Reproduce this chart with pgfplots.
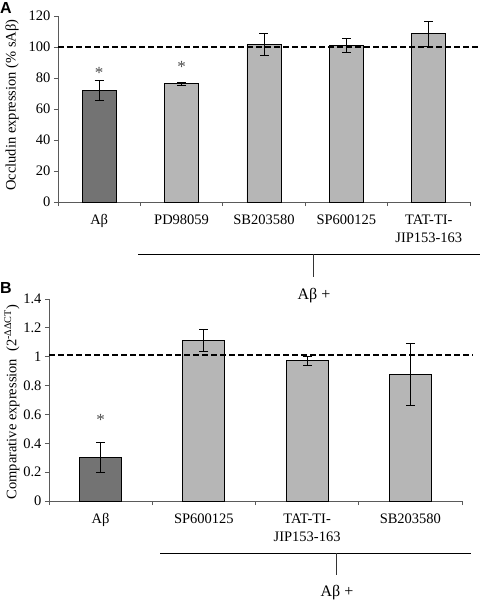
\documentclass[border=0pt]{standalone}
\usepackage{fontspec}
\setmainfont{Liberation Serif}
\newfontfamily\hsans{Liberation Sans}
\usepackage{pgfplots}
\pgfplotsset{compat=1.18}
\definecolor{darkbar}{RGB}{115,115,115}
\definecolor{lightbar}{RGB}{182,182,182}
\definecolor{axisgray}{RGB}{90,90,90}
\pgfplotsset{
  panel/.style={
    scale only axis,
    axis x line=bottom, axis y line=left,
    axis line style={-, axisgray, line width=0.8pt},
    tick align=outside,
    clip=false,
    ymin=0,
    major tick length=4pt,
    minor tick length=4pt,
    x tick style={draw=none},
    minor x tick style={axisgray, line width=0.8pt, draw=axisgray},
    y tick style={axisgray, line width=0.8pt},
    tick label style={font=\fontsize{14.5}{18}\selectfont},
    xticklabel style={align=center, yshift=-5pt},
    /pgf/number format/assume math mode=true,
  },
  barA/.style={ybar, bar shift=0pt, draw=black, line width=0.8pt,
    /pgfplots/error bars/y dir=both, /pgfplots/error bars/y explicit,
    /pgfplots/error bars/error bar style={black, line width=0.9pt},
    /pgfplots/error bars/error mark options={rotate=90, mark size=4.5pt, black, line width=0.9pt}},
}
\begin{document}
\begin{tikzpicture}[x=1pt,y=1pt]
\useasboundingbox (0,0) rectangle (480,-602);

% ---------- Panel A ----------
\begin{axis}[panel,
  at={(58pt,-202pt)}, anchor=south west,
  width=412pt, height=186pt,
  xmin=-0.5, xmax=4.5, ymax=120,
  ytick={0,20,...,120},
  xtick={0,1,2,3,4},
  xticklabels={Aβ, PD98059, SB203580, SP600125, {TAT-TI-\\JIP153-163}},
  minor xtick={-0.5,0.5,1.5,2.5,3.5,4.5},
]
\addplot[barA, fill=darkbar, bar width=34pt] coordinates {(0,72) +- (0,6.5)};
\addplot[barA, fill=lightbar, bar width=34pt] coordinates {
  (1,76.2) +- (0,1.2)
  (2,101.5) +- (0,7.1)
  (3,100.9) +- (0,4.6)
  (4,108.5) +- (0,8)
};
\addplot[black, line width=1.9pt, dash pattern=on 6pt off 3pt] coordinates {(-0.5,100) (4.62,100)};
\node[font=\fontsize{17}{17}\selectfont, text=black!70] at (axis cs:0,83) {*};
\node[font=\fontsize{17}{17}\selectfont, text=black!70] at (axis cs:1,87) {*};
\end{axis}

\node[rotate=90, font=\fontsize{14.5}{14.5}\selectfont] at (12,-105) {Occludin expression (\% sAβ)};
\node[font=\hsans\bfseries\fontsize{16}{16}\selectfont] at (6,-8) {A};
\draw[black, line width=0.9pt] (138,-254) -- (480,-254);
\draw[black!80, line width=0.9pt] (313,-254) -- (313,-277);
\node[font=\fontsize{16}{16}\selectfont] at (314,-296) {Aβ +};

% ---------- Panel B ----------
\begin{axis}[panel,
  at={(49pt,-501pt)}, anchor=south west,
  width=413pt, height=202pt,
  xmin=-0.5, xmax=3.5, ymax=1.4,
  ytick={0,0.2,...,1.4},
  yticklabels={0,0.2,0.4,0.6,0.8,1,1.2,1.4},
  xtick={0,1,2,3},
  xticklabels={Aβ, SP600125, {TAT-TI-\\JIP153-163}, SB203580},
  minor xtick={-0.5,0.5,1.5,2.5,3.5},
]
\addplot[barA, fill=darkbar, bar width=42pt] coordinates {(0,0.303) +- (0,0.102)};
\addplot[barA, fill=lightbar, bar width=42pt] coordinates {
  (1,1.113) +- (0,0.076)
  (2,0.972) +- (0,0.032)
  (3,0.878) +- (0,0.213)
};
\addplot[black, line width=1.9pt, dash pattern=on 6pt off 3pt] coordinates {(-0.5,1.015) (3.61,1.015)};
\node[font=\fontsize{17}{17}\selectfont, text=black!70] at (axis cs:0,0.56) {*};
\end{axis}

\node[rotate=90, font=\fontsize{14.5}{14.5}\selectfont] at (12,-402) {Comparative expression\ \ (2\textsuperscript{-ΔΔCT})};
\node[font=\hsans\bfseries\fontsize{16}{16}\selectfont] at (6,-288) {B};
\draw[black, line width=0.9pt] (160,-553) -- (471,-553);
\draw[black!80, line width=0.9pt] (336,-553) -- (336,-575);
\node[font=\fontsize{16}{16}\selectfont] at (337,-593) {Aβ +};
\end{tikzpicture}
\end{document}
